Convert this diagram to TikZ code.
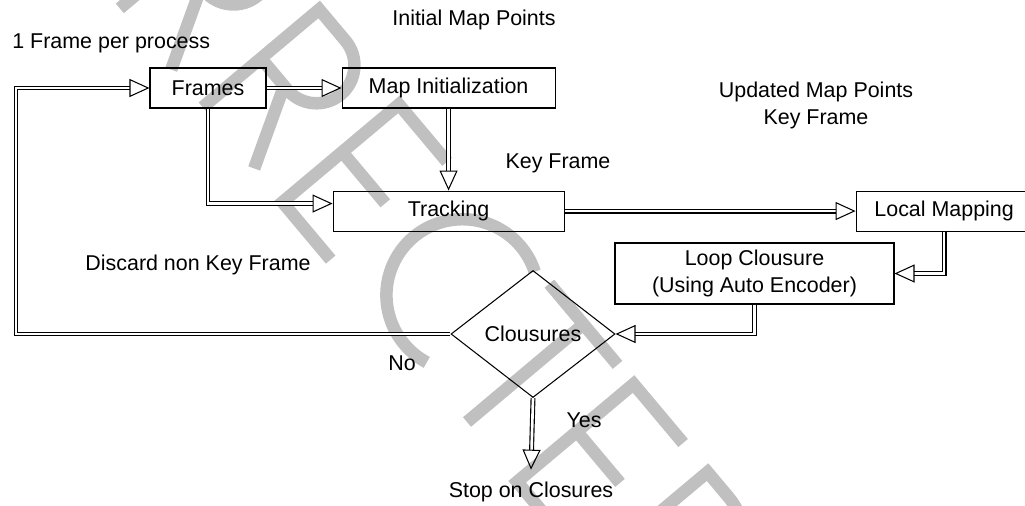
\documentclass[tikz,border=0pt]{standalone}
\usepackage{fontspec}
\setmainfont{Liberation Sans}
\usepackage{tikz}
\usetikzlibrary{shapes,arrows,positioning,calc,arrows.meta}
\newcommand{\chartfont}{\fontsize{12.2}{15.4}\selectfont}
\definecolor{wmgray}{RGB}{192,192,192}
\tikzstyle{block} = [draw, line width=0.6pt, minimum height=8mm, inner sep=0pt, font=\chartfont]
\tikzstyle{lbl} = [inner sep=0pt, font=\chartfont]
\tikzstyle{dblarrow} = [double, double distance=1.5pt, line width=0.65pt, -{Triangle[open, length=4mm, width=3.6mm, line width=0.6pt]}]
\tikzstyle{wmark} = [draw=wmgray, line width=2.5mm]

\begin{document}
\begin{tikzpicture}[x=0.2mm, y=-0.2mm]
    \useasboundingbox (0,0) rectangle (1025,506);
    % Watermark
    \begin{scope}
        \clip (0,0) rectangle (1025,506);
        \begin{scope}[shift={(467,422)}, x={(0.1286mm,-0.1532mm)}, y={(0.1532mm,0.1286mm)}, wmark]
            \draw (-540,0) -- (-540,152) -- (-499,152) arc[start angle=90, end angle=-90, radius=38] -- (-540,76);
            \draw (-504,76) -- (-460,0);
            \draw (-411,0) -- (-411,152) -- (-370,152) arc[start angle=90, end angle=-90, radius=38] -- (-411,76);
            \draw (-375,76) -- (-331,0);
            \draw (-212,0) -- (-287,0) -- (-287,152) -- (-212,152);
            \draw (-287,78) -- (-220,78);
            \draw (-100,78) ++(68:76) arc[start angle=68, end angle=292, radius=76];
            \draw (0,0) -- (0,152);
            \draw (-53,152) -- (53,152);
            \draw (155,0) -- (78,0) -- (78,152) -- (155,152);
            \draw (78,78) -- (145,78);
            \draw (193,0) -- (193,152) -- (225,152) arc[start angle=90, end angle=-90, radius=76] -- cycle;
        \end{scope}
    \end{scope}
    % Nodes
    \node[block, minimum width=23.2mm] (frames) at (208,88) {Frames};
    \node[block, minimum width=42.6mm, right=15mm of frames] (mapinit) {Map Initialization};
    \node[block, minimum width=46.2mm, below=16.4mm of mapinit] (tracking) {Tracking};
    \node[block, minimum width=35.2mm, right=58.2mm of tracking] (localmap) {Local Mapping};
    \node[block, minimum width=55.8mm, minimum height=12.2mm, align=center] (loopc) at (754.5,273.5) {Loop Clousure\\(Using Auto Encoder)};
    \node[draw, diamond, line width=0.6pt, minimum width=32.8mm, minimum height=25.4mm, inner sep=0pt, font=\chartfont] (clos) at (533,334) {Clousures};
    \node[lbl, inner sep=2.4mm] (stop) at (531,492) {Stop on Closures};
    \coordinate (loopcorner) at (16,88);
    % Arrows
    \draw[dblarrow] (clos.west) -| (loopcorner) -- (frames.west);
    \draw[dblarrow] (frames.east) -- (mapinit.west);
    \draw[dblarrow] (frames.south) |- ([yshift=1.5mm]tracking.west);
    \draw[dblarrow] (mapinit.south) -- (tracking.north);
    \draw[dblarrow] (tracking.east) -- (localmap.west);
    \draw[dblarrow] (localmap.south) |- (loopc.east);
    \draw[dblarrow] (loopc.south) |- (clos.east);
    \draw[dblarrow] (clos.south) -- (stop.north);
    % Labels
    \node[lbl] (initpts) at (474,20) {Initial Map Points};
    \node[lbl, anchor=west] (perproc) at (12,43) {1 Frame per process};
    \node[lbl, align=center] (updpts) at (816,105) {Updated Map Points\\Key Frame};
    \node[lbl] (keyfr) at (558,163) {Key Frame};
    \node[lbl] (discard) at (198,265) {Discard non Key Frame};
    \node[lbl] (no) at (402,363) {No};
    \node[lbl] (yes) at (584,420) {Yes};
\end{tikzpicture}
\end{document}
